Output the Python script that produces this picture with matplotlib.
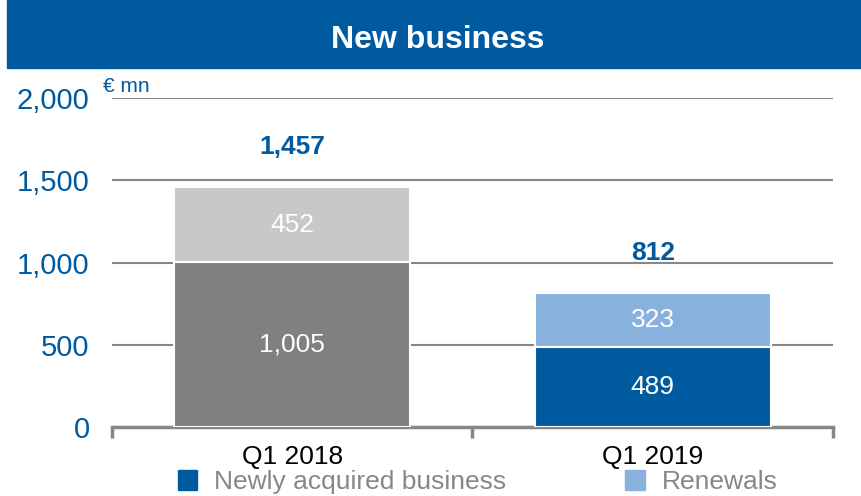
import matplotlib.pyplot as plt
from matplotlib.patches import Rectangle, Patch

plt.rcParams['font.family'] = ['Liberation Sans', 'DejaVu Sans']

periods = ['Q1 2018', 'Q1 2019']
newly_acquired = [1005, 489]
renewals = [452, 323]
totals = [1457, 812]
y_ticks = [0, 500, 1000, 1500, 2000]

blue = '#005AA0'
base_colors = ['#808080', blue]
top_colors = ['#C8C8C8', '#88B2DD']
grid_col = '#878787'

fig = plt.figure(figsize=(8.61, 4.96), dpi=100)
ax = fig.add_axes([0.130, 0.139, 0.8375, 0.6634])

# title band
fig.patches.append(Rectangle((7 / 861, 1 - 68 / 496), 1 - 7 / 861, 68 / 496,
                             transform=fig.transFigure, color=blue, zorder=0))
fig.text(0.508, 1 - 40 / 496, 'New business', color='white', fontsize=23,
         fontweight='bold', ha='center', va='center')

x = range(len(periods))
ax.bar(x, newly_acquired, width=0.655, color=base_colors, edgecolor='white',
       linewidth=1.5, zorder=3)
ax.bar(x, renewals, bottom=newly_acquired, width=0.655, color=top_colors,
       edgecolor='white', linewidth=1.5, zorder=3)

for i in x:
    ax.text(i, newly_acquired[i] / 2, f'{newly_acquired[i]:,}', color='white',
            fontsize=19, ha='center', va='center', zorder=4)
    ax.text(i, newly_acquired[i] + renewals[i] / 2, f'{renewals[i]:,}',
            color='white', fontsize=19, ha='center', va='center', zorder=4)
    ax.annotate(f'{totals[i]:,}', (i, totals[i]), xytext=(0, 29),
                textcoords='offset points', color=blue, fontsize=19,
                fontweight='bold', ha='center', va='center')

ax.set_xlim(-0.5, 1.5)
ax.set_ylim(0, 2000)
ax.set_yticks(y_ticks)
ax.set_yticklabels([f'{v:,}' for v in y_ticks], color=blue, fontsize=21)
ax.tick_params(axis='y', length=0, pad=16)
ax.set_xticks([-0.5, 0.5, 1.5])
ax.set_xticklabels([])
ax.tick_params(axis='x', length=8, width=2.5, color=grid_col, direction='out')
ax.set_xticks(list(x), minor=True)
ax.set_xticklabels(periods, minor=True, fontsize=19, color='black')
ax.tick_params(axis='x', which='minor', length=0, pad=13)

ax.yaxis.grid(True, color=grid_col, linewidth=1.5, zorder=0)
ax.set_axisbelow(True)
for s in ['top', 'right', 'left']:
    ax.spines[s].set_visible(False)
ax.spines['bottom'].set_color(grid_col)
ax.spines['bottom'].set_linewidth(2.5)

fig.text(103 / 861, 1 - 86 / 496, '€ mn', color=blue, fontsize=15,
         ha='left', va='center')

handles = [Patch(color=blue), Patch(color='#88B2DD')]
fig.legend(handles, ['Newly acquired business', 'Renewals'], ncol=2,
           loc='center', bbox_to_anchor=(0.555, 1 - 482 / 496), frameon=False,
           fontsize=19, labelcolor='#878787', handlelength=0.75,
           handleheight=0.8, handletextpad=0.65, columnspacing=4.5,
           borderpad=0)

fig.savefig('out.png', dpi=100)
